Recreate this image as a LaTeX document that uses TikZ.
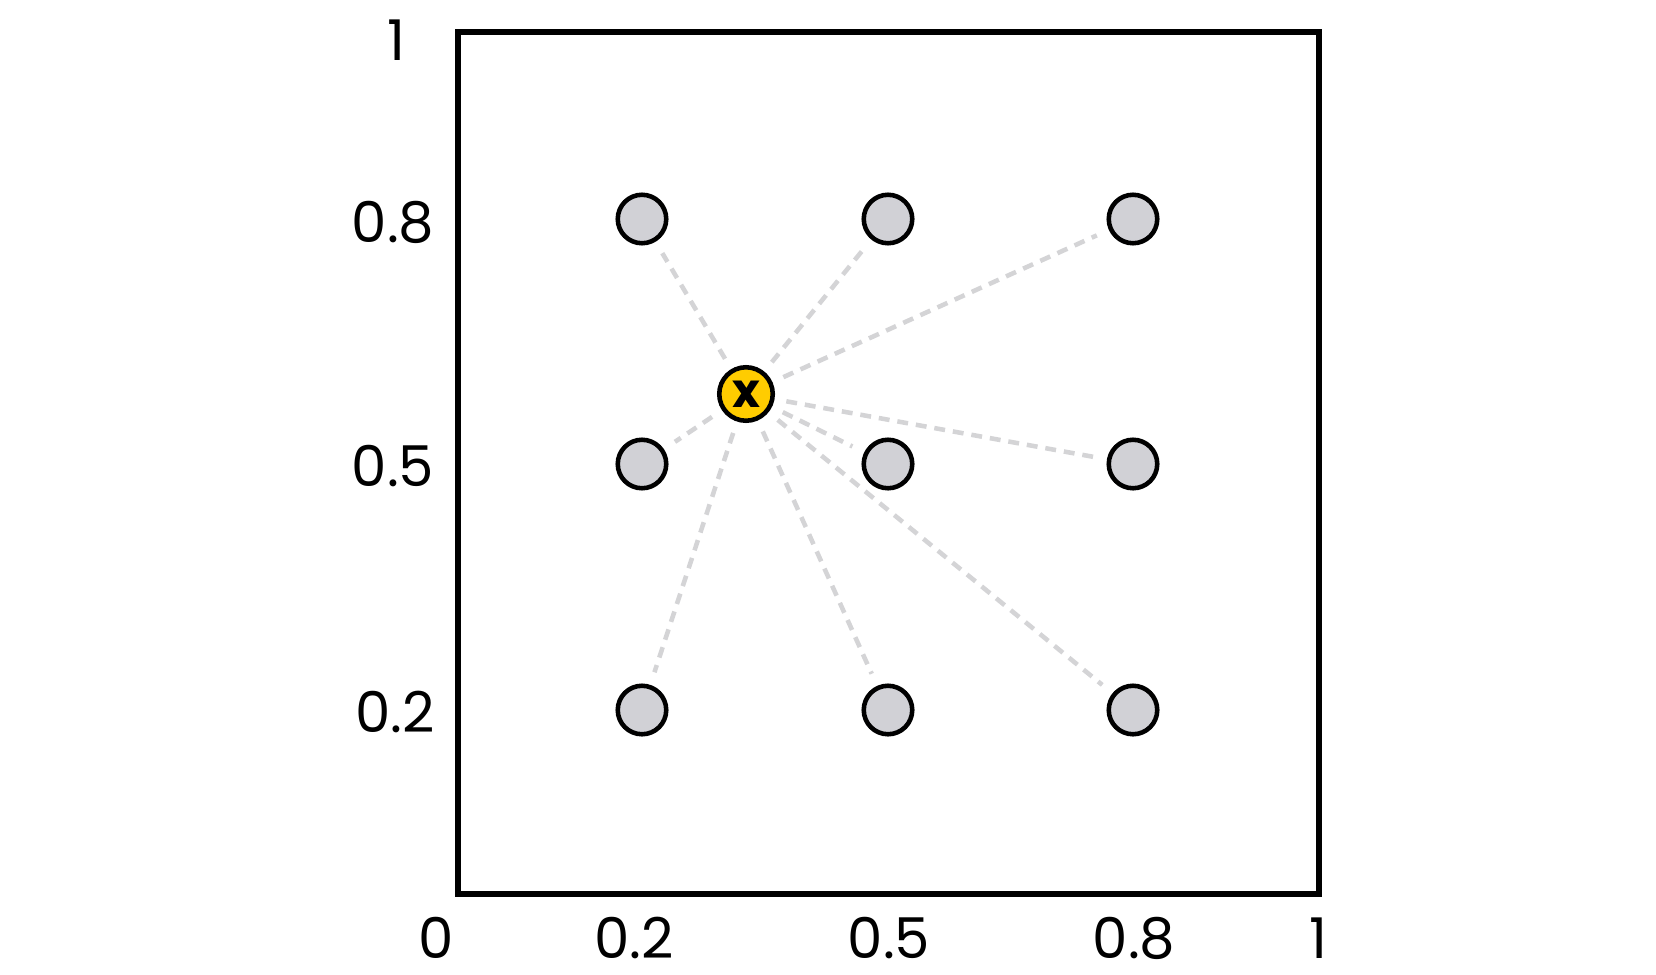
\documentclass[tikz,border=0pt]{standalone}
\usepackage{fontspec}
\setmainfont{Poppins}
\usetikzlibrary{positioning}

\definecolor{dotgray}{HTML}{D1D1D6}
\definecolor{linegray}{HTML}{D4D4D6}
\definecolor{queryyellow}{HTML}{FFCC00}

\tikzset{
    grid dot/.style={circle, draw=black, fill=dotgray, line width=2.6pt, inner sep=0pt, minimum size=0.97cm},
    query dot/.style={circle, draw=black, fill=queryyellow, line width=2.6pt, inner sep=0pt, minimum size=1.07cm, font=\fontsize{27}{27}\selectfont\bfseries},
    dist line/.style={linegray, line width=2.6pt, dash pattern=on 6.2pt off 4.5pt, shorten <=6.8pt, shorten >=7.5pt},
    tick label/.style={font=\fontsize{32}{38}\selectfont, inner sep=0pt}
}

\begin{document}
\begin{tikzpicture}[x=0.02cm, y=-0.02cm]
    \useasboundingbox (0,0) rectangle (1656,974);
    % Frame
    \draw[line width=3pt] (458,32) rectangle (1319,894);
    % Tick labels
    \node[tick label] (y1) at (396,40) {1};
    \node[tick label] (y08) at (393,222) {0.8};
    \node[tick label] (y05) at (393,466) {0.5};
    \node[tick label] (y02) at (395,712) {0.2};
    \node[tick label] (x0) at (436,938) {0};
    \node[tick label] (x02) at (634,938) {0.2};
    \node[tick label] (x05) at (889,938) {0.5};
    \node[tick label] (x08) at (1134,938) {0.8};
    \node[tick label] (x1) at (1318,938) {1};
    % Grid points
    \foreach \i/\x in {1/642,2/888,3/1133} {
        \foreach \j/\y in {1/219,2/464,3/710} {
            \node[grid dot] (p\i\j) at (\x,\y) {};
        }
    }
    % Query point
    \node[query dot] (q) at (746,394) {x};
    % Distances
    \foreach \i in {1,2,3} {
        \foreach \j in {1,2,3} {
            \draw[dist line] (q) -- (p\i\j);
        }
    }
\end{tikzpicture}
\end{document}
